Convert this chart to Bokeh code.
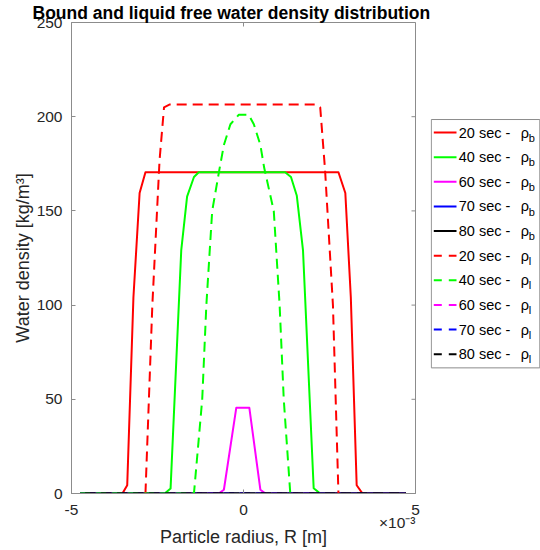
import math
from bokeh.plotting import figure
from bokeh.models import Range1d, FixedTicker, Title
from bokeh.layouts import row
from bokeh.embed import file_html
from bokeh.resources import INLINE
from bokeh.core.properties import value

# Particle radius R in units of 1e-3 m, water density in kg/m^3
R_b20 = [-4.75, -3.52, -3.38, -3.20, -3.02, -2.85, 2.76, 2.96, 3.12, 3.29, 3.46, 4.72]
rho_b20 = [0, 0, 4.4, 104, 159.5, 170.5, 170.5, 159.5, 104, 4.4, 0, 0]
R_b40 = [-4.75, -2.29, -2.12, -1.81, -1.64, -1.44, -1.30, 1.21, 1.38, 1.55, 1.73, 2.04, 2.23, 4.72]
rho_b40 = [0, 0, 2.6, 129, 157.6, 168, 170.5, 170.5, 168, 158, 129, 2.8, 0, 0]
R_b60 = [-4.75, -0.72, -0.57, -0.21, 0.17, 0.49, 0.64, 4.72]
rho_b60 = [0, 0, 2, 45.5, 45.5, 2, 0, 0]
R_b70 = [-4.75, 4.72]
rho_b70 = [0, 0]
R_b80 = [-4.75, 4.72]
rho_b80 = [0, 0]

R_l20 = [-2.85, -2.65, -2.44, -2.31, -2.14, 2.09, 2.23, 2.37, 2.60, 2.76]
rho_l20 = [0, 100, 177, 205, 206.5, 206.5, 205, 172, 100, 0]
R_l40 = [-4.75, -1.44, -1.20, -1.08, -0.91, -0.70, -0.57, -0.38, -0.14, 0.15, 0.30, 0.49, 0.60, 0.88, 1.05, 1.17, 1.36]
rho_l40 = [0, 0, 50, 100, 150, 172, 185, 196, 201, 201, 196, 185, 173, 150, 100, 50, 0]
R_l60 = [-4.75, 4.72]
rho_l60 = [0, 0]
R_l70 = [-4.75, 4.72]
rho_l70 = [0, 0]
R_l80 = [-4.75, 4.72]
rho_l80 = [0, 0]

times = ["20", "40", "60", "70", "80"]
colors = ["#ff0000", "#00ff00", "#ff00ff", "#0000ff", "#000000"]
x_ticks = [-5, 0, 5]
x_tick_labels = ["-5", "0", "5"]
y_ticks = [0, 50, 100, 150, 200, 250]

FONT = "Liberation Sans"
AX = "#8c8c8c"
TXT = "#262626"
DASH = "10 6"

W1 = 430
p = figure(width=W1, height=550, x_range=Range1d(-5, 5), y_range=Range1d(0, 250),
           output_backend="svg", toolbar_location=None,
           min_border_left=71, min_border_right=15, min_border_top=22, min_border_bottom=57)
p.title = Title(text="Bound and liquid free water density distribution", align="left",
                offset=-39, text_font=FONT, text_font_size="17.5px", text_font_style="bold",
                text_color="black", standoff=0)
p.xgrid.visible = False
p.ygrid.visible = False
p.outline_line_color = AX
p.outline_line_width = 1
p.background_fill_color = "white"
p.border_fill_color = "white"

for ax in (p.xaxis[0], p.yaxis[0]):
    ax.axis_line_color = AX
    ax.major_tick_line_color = AX
    ax.minor_tick_line_color = None
    ax.major_tick_in = 4
    ax.major_tick_out = 0
    ax.major_label_text_font = FONT
    ax.major_label_text_font_size = "15.5px"
    ax.major_label_text_color = TXT
    ax.axis_label_text_font = FONT
    ax.axis_label_text_font_style = "normal"
    ax.axis_label_text_color = TXT

p.xaxis.ticker = FixedTicker(ticks=x_ticks)
p.xaxis.major_label_overrides = dict(zip(x_ticks, x_tick_labels))
p.xaxis.major_label_standoff = 11
p.yaxis.ticker = FixedTicker(ticks=y_ticks)
p.yaxis.axis_label = "Water density [kg/m³]"
p.yaxis.axis_label_text_font_size = "18px"
p.yaxis.major_label_standoff = 9
p.yaxis.axis_label_standoff = 1

# exponent of the x axis, at the right end under the axis
p.add_layout(Title(text="×10⁻³", align="right", text_font=FONT, text_font_size="15.5px",
                   text_font_style="normal", text_color=TXT, standoff=-11), "below")
# x axis title
p.add_layout(Title(text="Particle radius, R [m]", align="center", text_font=FONT,
                   text_font_size="18px", text_font_style="normal", text_color=TXT,
                   standoff=-2), "below")

# inward ticks on the right and top edges of the box
p.ray(x=[x_ticks[-1]] * len(y_ticks), y=y_ticks, length=4, length_units="screen",
      angle=math.pi, line_color=AX, line_width=1)
p.ray(x=x_ticks, y=[y_ticks[-1]] * len(x_ticks), length=4, length_units="screen",
      angle=-math.pi / 2, line_color=AX, line_width=1)

solid = [(R_b20, rho_b20), (R_b40, rho_b40), (R_b60, rho_b60), (R_b70, rho_b70), (R_b80, rho_b80)]
dashed = [(R_l20, rho_l20), (R_l40, rho_l40), (R_l60, rho_l60), (R_l70, rho_l70), (R_l80, rho_l80)]

# zero-valued 60 s and 70 s liquid-water curves lie under the black line
for i in (2, 3):
    xs, ys = dashed[i]
    p.line(xs, ys, line_color=colors[i], line_width=2, line_dash=DASH)
for (xs, ys), c in zip(solid, colors):
    p.line(xs, ys, line_color=c, line_width=2, line_join="round")
for i in (0, 1, 4):
    xs, ys = dashed[i]
    off = 11 if i == 4 else 0
    p.line(xs, ys, line_color=colors[i], line_width=2, line_dash=DASH, line_dash_offset=off,
           line_join="round")

# Legend panel
W2 = 540 - W1
q = figure(width=W2, height=550, x_range=Range1d(0, W2), y_range=Range1d(550, 0),
           output_backend="svg", toolbar_location=None, min_border=0,
           x_axis_location=None, y_axis_location=None)
q.title = None
q.grid.visible = False
q.outline_line_color = None
q.border_fill_color = "white"

q.quad(left=[0.8], right=[109.3], top=[113.3], bottom=[403.3],
       fill_color="white", line_color=AX, line_width=1)

row_y0, row_dy = 128.5, 28.75
labels = [t + " sec - " for t in times] * 2
subs = ["b"] * 5 + ["l"] * 5
ys = [row_y0 + i * row_dy for i in range(10)]
q.segment(x0=[3.3] * 5, y0=ys[:5], x1=[26] * 5, y1=ys[:5], line_color=colors, line_width=2)
q.segment(x0=[3.3] * 5, y0=ys[5:], x1=[26] * 5, y1=ys[5:], line_color=colors, line_width=2,
          line_dash="8 7")
q.text(x=[28.3] * 10, y=ys, text=labels, text_baseline="middle", text_align="left",
       text_font=value(FONT), text_font_size="14.5px", text_color="black")
q.text(x=[90.3] * 10, y=ys, text=["ρ"] * 10, text_baseline="middle", text_align="left",
       text_font=value(FONT), text_font_size="14.5px", text_color="black")
q.text(x=[98.2] * 10, y=[v + 6 for v in ys], text=subs, text_baseline="middle", text_align="left",
       text_font=value(FONT), text_font_size="11px", text_color="black")

layout = row(p, q, spacing=0)
open("out.html", "w").write(file_html(layout, INLINE))
